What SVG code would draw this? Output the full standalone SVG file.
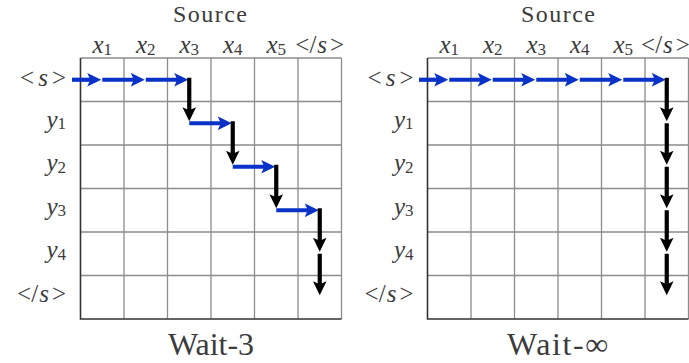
<svg xmlns="http://www.w3.org/2000/svg" width="689" height="363" viewBox="0 0 689 363" font-family="Liberation Serif, DejaVu Serif, serif">
<defs>
<marker id="hb" markerUnits="userSpaceOnUse" viewBox="0 -8 16 16" markerWidth="16" markerHeight="16" refX="4" refY="0" orient="auto"><path d="M0,-6.8 L14,0 L0,6.8 L3,0 Z" fill="#0a32c8"/></marker>
<marker id="hk" markerUnits="userSpaceOnUse" viewBox="0 -8 16 16" markerWidth="16" markerHeight="16" refX="4" refY="0" orient="auto"><path d="M0,-6.8 L14,0 L0,6.8 L3,0 Z" fill="#000"/></marker>
</defs>

<g id="panel-wait3">
  <g id="grid-left" fill="none">
    <path stroke="#8c8c8c" stroke-width="1.3" d="M124 58V319M167.5 58V319M211 58V319M254.5 58V319M298 58V319M80.5 101.5H341.5M80.5 145H341.5M80.5 188.5H341.5M80.5 232H341.5M80.5 275.5H341.5M80.5 58H341.5M341.5 58V319"/>
    <path stroke="#333" stroke-width="1.6" d="M80.5 58V319H341.5"/>
  </g>
  <g id="labels-left" fill="#3c3c3c" font-family="Liberation Serif, DejaVu Serif, serif">
    <text font-family="Liberation Serif" font-size="24" text-anchor="middle" x="210" y="22" textLength="74">Source</text>
    <g text-anchor="middle" font-size="25">
      <text font-family="Liberation Serif" x="102.25" y="53"><tspan font-style="italic">x</tspan><tspan font-size="17" dy="1.5">1</tspan></text>
      <text font-family="Liberation Serif" x="145.75" y="53"><tspan font-style="italic">x</tspan><tspan font-size="17" dy="1.5">2</tspan></text>
      <text font-family="Liberation Serif" x="189.25" y="53"><tspan font-style="italic">x</tspan><tspan font-size="17" dy="1.5">3</tspan></text>
      <text font-family="Liberation Serif" x="232.75" y="53"><tspan font-style="italic">x</tspan><tspan font-size="17" dy="1.5">4</tspan></text>
      <text font-family="Liberation Serif" x="276.25" y="53"><tspan font-style="italic">x</tspan><tspan font-size="17" dy="1.5">5</tspan></text>
      <text font-family="Liberation Serif" x="319.75" y="53">&lt;/<tspan font-style="italic" dx="1">s</tspan><tspan dx="3">&gt;</tspan></text>
    </g>
    <g text-anchor="end" font-size="25">
      <text font-family="Liberation Serif" x="66" y="86">&lt;<tspan font-style="italic" dx="4">s</tspan><tspan dx="4">&gt;</tspan></text>
      <text font-family="Liberation Serif" x="66" y="127.75"><tspan font-style="italic">y</tspan><tspan font-size="17" dy="1.5">1</tspan></text>
      <text font-family="Liberation Serif" x="66" y="171.25"><tspan font-style="italic">y</tspan><tspan font-size="17" dy="1.5">2</tspan></text>
      <text font-family="Liberation Serif" x="66" y="214.75"><tspan font-style="italic">y</tspan><tspan font-size="17" dy="1.5">3</tspan></text>
      <text font-family="Liberation Serif" x="66" y="258.25"><tspan font-style="italic">y</tspan><tspan font-size="17" dy="1.5">4</tspan></text>
      <text font-family="Liberation Serif" x="66" y="301.75">&lt;/<tspan font-style="italic" dx="1">s</tspan><tspan dx="3">&gt;</tspan></text>
    </g>
    <text font-family="Liberation Serif" font-size="32" text-anchor="middle" x="211" y="355" textLength="86">Wait-3</text>
  </g>
</g>

<g id="panel-waitinf">
  <g id="grid-right" fill="none">
    <path stroke="#8c8c8c" stroke-width="1.3" d="M471 58V319M514.5 58V319M558 58V319M601.5 58V319M645 58V319M427.5 101.5H688.5M427.5 145H688.5M427.5 188.5H688.5M427.5 232H688.5M427.5 275.5H688.5M427.5 58H688.5M688.5 58V319"/>
    <path stroke="#333" stroke-width="1.6" d="M427.5 58V319H688.5"/>
  </g>
  <g id="labels-right" fill="#3c3c3c" font-family="Liberation Serif, DejaVu Serif, serif">
    <text font-family="Liberation Serif" font-size="24" text-anchor="middle" x="558" y="22" textLength="74">Source</text>
    <g text-anchor="middle" font-size="25">
      <text font-family="Liberation Serif" x="449.25" y="53"><tspan font-style="italic">x</tspan><tspan font-size="17" dy="1.5">1</tspan></text>
      <text font-family="Liberation Serif" x="492.75" y="53"><tspan font-style="italic">x</tspan><tspan font-size="17" dy="1.5">2</tspan></text>
      <text font-family="Liberation Serif" x="536.25" y="53"><tspan font-style="italic">x</tspan><tspan font-size="17" dy="1.5">3</tspan></text>
      <text font-family="Liberation Serif" x="579.75" y="53"><tspan font-style="italic">x</tspan><tspan font-size="17" dy="1.5">4</tspan></text>
      <text font-family="Liberation Serif" x="623.25" y="53"><tspan font-style="italic">x</tspan><tspan font-size="17" dy="1.5">5</tspan></text>
      <text font-family="Liberation Serif" x="665.5" y="53">&lt;/<tspan font-style="italic" dx="1">s</tspan><tspan dx="3">&gt;</tspan></text>
    </g>
    <g text-anchor="end" font-size="25">
      <text font-family="Liberation Serif" x="413.5" y="86">&lt;<tspan font-style="italic" dx="4">s</tspan><tspan dx="4">&gt;</tspan></text>
      <text font-family="Liberation Serif" x="413.5" y="127.75"><tspan font-style="italic">y</tspan><tspan font-size="17" dy="1.5">1</tspan></text>
      <text font-family="Liberation Serif" x="413.5" y="171.25"><tspan font-style="italic">y</tspan><tspan font-size="17" dy="1.5">2</tspan></text>
      <text font-family="Liberation Serif" x="413.5" y="214.75"><tspan font-style="italic">y</tspan><tspan font-size="17" dy="1.5">3</tspan></text>
      <text font-family="Liberation Serif" x="413.5" y="258.25"><tspan font-style="italic">y</tspan><tspan font-size="17" dy="1.5">4</tspan></text>
      <text font-family="Liberation Serif" x="413.5" y="301.75">&lt;/<tspan font-style="italic" dx="1">s</tspan><tspan dx="3">&gt;</tspan></text>
    </g>
    <text font-family="Liberation Serif" font-size="32" text-anchor="middle" x="557.5" y="355" textLength="101">Wait-∞</text>
  </g>
</g>

<g id="connectors" fill="none" stroke-width="4.2">
  <g stroke="#0a32c8" marker-end="url(#hb)">
    <path d="M72 79.75H91.25"/>
    <path d="M102.25 79.75H134.75"/>
    <path d="M145.75 79.75H178.25"/>
    <path d="M189.25 123.25H221.75"/>
    <path d="M232.75 166.75H265.25"/>
    <path d="M276.25 210.25H308.75"/>
    <path d="M419 79.75H438.25"/>
    <path d="M449.25 79.75H481.75"/>
    <path d="M492.75 79.75H525.25"/>
    <path d="M536.25 79.75H568.75"/>
    <path d="M579.75 79.75H612.25"/>
    <path d="M623.25 79.75H655.75"/>
  </g>
  <g stroke="#000" marker-end="url(#hk)">
    <path d="M189.25 77.75V111.25"/>
    <path d="M232.75 121.25V154.75"/>
    <path d="M276.25 164.75V198.25"/>
    <path d="M319.75 208.25V241.75"/>
    <path d="M319.75 253.75V285.25"/>
    <path d="M666.75 77.75V111.25"/>
    <path d="M666.75 123.25V154.75"/>
    <path d="M666.75 166.75V198.25"/>
    <path d="M666.75 210.25V241.75"/>
    <path d="M666.75 253.75V285.25"/>
  </g>
</g>
</svg>
